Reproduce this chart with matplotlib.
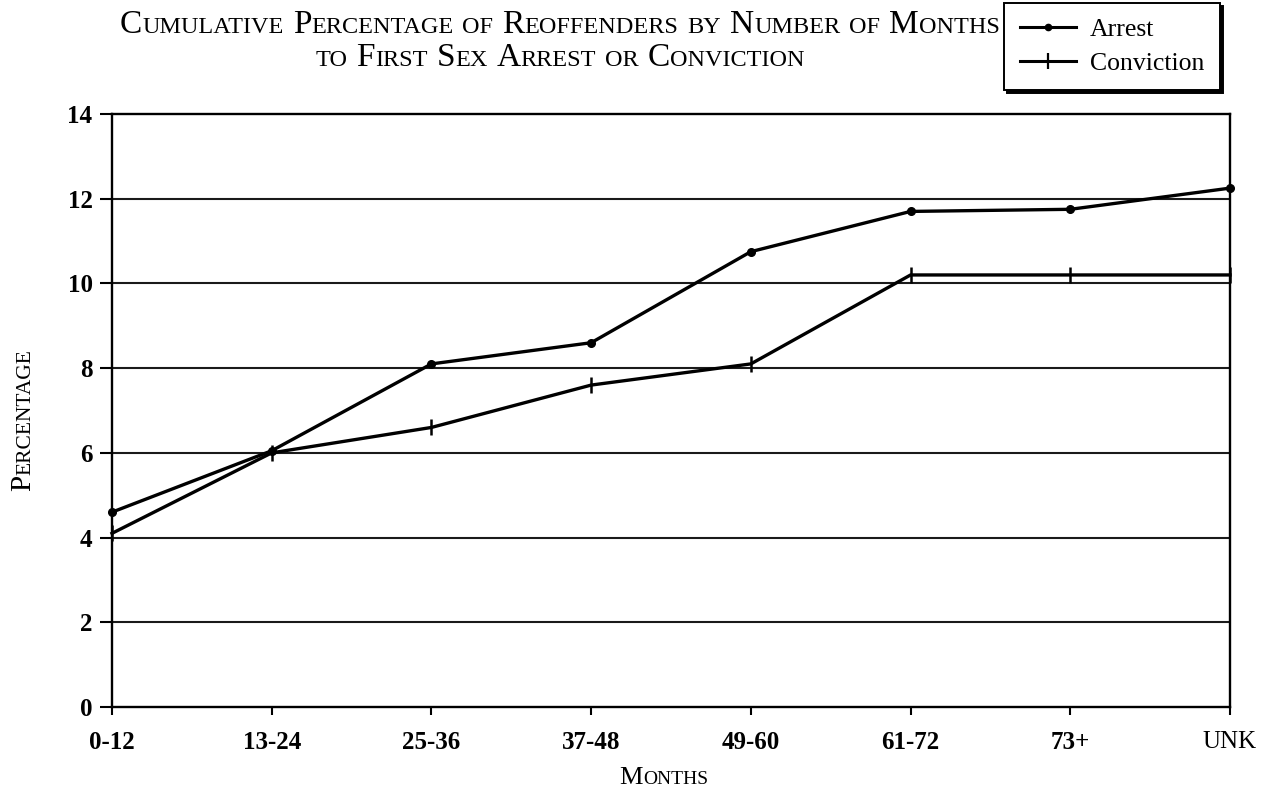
import matplotlib
matplotlib.use("Agg")
import matplotlib.pyplot as plt
from matplotlib.lines import Line2D


# Data
months = ['0-12', '13-24', '25-36', '37-48', '49-60', '61-72', '73+', 'UNK']
arrest = [4.6, 6.05, 8.1, 8.6, 10.75, 11.7, 11.75, 12.25]
conviction = [4.1, 6.0, 6.6, 7.6, 8.1, 10.2, 10.2, 10.2]
yticks = [0, 2, 4, 6, 8, 10, 12, 14]

SERIF = 'Liberation Serif'

fig = plt.figure(figsize=(12.68, 7.93), dpi=100)
ax = fig.add_axes([112 / 1268, 1 - 707 / 793, (1230 - 112) / 1268, (707 - 114) / 793])

x = list(range(len(months)))

# gridlines first so the lines sit on top
for v in yticks[1:-1]:
    ax.axhline(v, color='0.1', lw=1.5, zorder=1)

ax.plot(x, arrest, color='black', lw=2.4, marker='o', ms=5.5, zorder=3, clip_on=False)
ax.plot(x, conviction, color='black', lw=2.4, marker='|', ms=12, mew=1.8, zorder=3, clip_on=False)

ax.set_xlim(0, len(months) - 1)
ax.set_ylim(0, 14)
ax.set_xticks(x)
ax.set_xticklabels(months)
ax.set_yticks(yticks)

for sp in ax.spines.values():
    sp.set_linewidth(1.7)
    sp.set_color('black')

ax.tick_params(axis='y', length=9, width=1.5, pad=5, direction='out')
ax.tick_params(axis='x', length=6, width=1.5, pad=11, direction='out')
for lab in ax.get_xticklabels() + ax.get_yticklabels():
    lab.set_fontfamily(SERIF)
    lab.set_fontsize(18)
    lab.set_fontweight('bold')
ax.get_xticklabels()[-1].set_fontweight('normal')


# small caps helper: capitals large, lowercase drawn as small capitals
renderer = fig.canvas.get_renderer()
W, H = fig.bbox.width, fig.bbox.height


def smallcaps(cx, cy, s, big, small, rot=0):
    runs = []
    for word_i, word in enumerate(s.split(' ')):
        if word_i > 0:
            runs.append((' ', None))
        cur, cur_big = '', None
        for ch in word:
            isbig = not ch.islower()
            if cur and isbig != cur_big:
                runs.append((cur, big if cur_big else small))
                cur = ''
            cur += ch.upper()
            cur_big = isbig
        if cur:
            runs.append((cur, big if cur_big else small))

    texts, widths = [], []
    space = big * 0.27 * 100 / 72
    for chunk, size in runs:
        if size is None:
            texts.append(None)
            widths.append(space)
            continue
        t = fig.text(0, 0, chunk, fontsize=size, family=SERIF, rotation=rot,
                     rotation_mode='anchor', ha='left', va='baseline')
        bb = t.get_window_extent(renderer)
        widths.append(bb.height if rot else bb.width)
        texts.append(t)
    total = sum(widths)
    pos = -total / 2
    for t, w in zip(texts, widths):
        if t is not None:
            if rot:
                t.set_position((cx / W, (H - cy + pos) / H))
            else:
                t.set_position(((cx + pos) / W, (H - cy) / H))
        pos += w


smallcaps(560, 33, 'Cumulative Percentage of Reoffenders by Number of Months', 24, 17.5)
smallcaps(560, 66, 'to First Sex Arrest or Conviction', 24, 17.5)
smallcaps(664, 784, 'Months', 19, 14)
smallcaps(30, 420, 'Percentage', 21, 15.5, rot=90)

# legend with a hard black shadow
handles = [
    Line2D([], [], color='black', lw=2.2, marker='o', ms=4.5),
    Line2D([], [], color='black', lw=2.2, marker='|', ms=11, mew=1.6),
]
leg = fig.legend(handles, ['Arrest', 'Conviction'], loc='upper right',
                 bbox_to_anchor=(1220 / 1268, 1 - 3 / 793), borderaxespad=0,
                 frameon=True, fancybox=False, edgecolor='black',
                 shadow={'color': 'black', 'alpha': 1},
                 prop={'family': SERIF, 'size': 18.5},
                 handlelength=2.2, handletextpad=0.55, borderpad=0.6,
                 labelspacing=0.4)
leg.get_frame().set_linewidth(1.4)

fig.savefig('out.png', dpi=100)
